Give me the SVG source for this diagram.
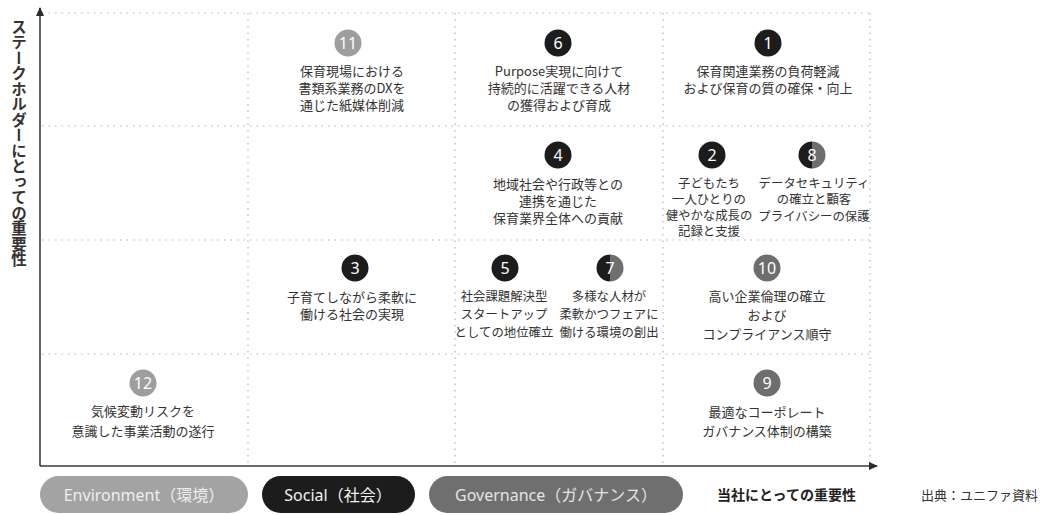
<svg xmlns="http://www.w3.org/2000/svg" width="1063" height="515" viewBox="0 0 1063 515">
<style>
.grid{stroke:#b5b5b5;stroke-width:1.2;stroke-dasharray:1.5 5;fill:none}
.axis{stroke:#3a3a3a;stroke-width:1.6;fill:none}
.t{font-family:"Noto Sans CJK JP","Noto Sans",sans-serif;font-size:13px;fill:#333;text-anchor:middle;dominant-baseline:central}
.s{font-size:12.4px}
.n{font-family:"Noto Sans","Noto Sans CJK JP",sans-serif;font-size:16px;fill:#fff;text-anchor:middle;dominant-baseline:central}
.soc{fill:#1c1c1c}
.gov{fill:#6e6e6e}
.env{fill:#9e9e9e}
.pill{font-family:"Noto Sans","Noto Sans CJK JP",sans-serif;font-size:16px;text-anchor:middle;dominant-baseline:central}
</style>
<defs>
<marker id="ah" markerWidth="10" markerHeight="10" refX="8" refY="5" orient="auto" markerUnits="userSpaceOnUse">
<path d="M0,1 L9,5 L0,9 Z" fill="#2a2a2a"/>
</marker>
</defs>
<rect width="1063" height="515" fill="#fff"/>
<g id="grid">
<line class="grid" x1="42" y1="13" x2="870" y2="13"/>
<line class="grid" x1="42" y1="126" x2="870" y2="126"/>
<line class="grid" x1="42" y1="240" x2="870" y2="240"/>
<line class="grid" x1="42" y1="354" x2="870" y2="354"/>
<line class="grid" x1="248" y1="13" x2="248" y2="465"/>
<line class="grid" x1="455" y1="13" x2="455" y2="465"/>
<line class="grid" x1="663" y1="13" x2="663" y2="465"/>
<line class="grid" x1="870" y1="13" x2="870" y2="465"/>
</g>
<g id="connectors">
<line class="axis" x1="40" y1="466" x2="40" y2="8" marker-end="url(#ah)"/>
<line class="axis" x1="40" y1="466" x2="877" y2="466" marker-end="url(#ah)"/>
</g>
<text x="19" y="19" writing-mode="vertical-rl" style="font-family:'Noto Sans CJK JP',sans-serif;font-size:15.5px;font-weight:bold;fill:#333">ステークホルダーにとっての重要性</text>
<g id="n11">
<circle cx="348" cy="43" r="13.5" class="env"/><text class="n" x="348" y="43">11</text>
<text class="t" x="352" y="70">保育現場における</text>
<text class="t" x="352" y="87">書類系業務のDXを</text>
<text class="t" x="352" y="104">通じた紙媒体削減</text>
</g>
<g id="n6">
<circle cx="558" cy="43" r="13.5" class="soc"/><text class="n" x="558" y="43">6</text>
<text class="t" x="559" y="70">Purpose実現に向けて</text>
<text class="t" x="559" y="87">持続的に活躍できる人材</text>
<text class="t" x="559" y="104">の獲得および育成</text>
</g>
<g id="n1">
<circle cx="768" cy="43" r="13.5" class="soc"/><text class="n" x="768" y="43">1</text>
<text class="t" x="768" y="70">保育関連業務の負荷軽減</text>
<text class="t" x="768" y="87">および保育の質の確保・向上</text>
</g>
<g id="n4">
<circle cx="558" cy="155" r="13.5" class="soc"/><text class="n" x="558" y="155">4</text>
<text class="t" x="558" y="183">地域社会や行政等との</text>
<text class="t" x="558" y="200">連携を通じた</text>
<text class="t" x="558" y="217">保育業界全体への貢献</text>
</g>
<g id="n2">
<circle cx="712" cy="155" r="13.5" class="soc"/><text class="n" x="712" y="155">2</text>
<text class="t s" x="709" y="183">子どもたち</text>
<text class="t s" x="709" y="199">一人ひとりの</text>
<text class="t s" x="709" y="215">健やかな成長の</text>
<text class="t s" x="709" y="231">記録と支援</text>
</g>
<g id="n8">
<path d="M812,141.5 A13.5,13.5 0 0 0 812,168.5 Z" class="soc"/>
<path d="M812,141.5 A13.5,13.5 0 0 1 812,168.5 Z" class="gov"/>
<text class="n" x="812" y="155">8</text>
<text class="t s" x="814" y="183">データセキュリティ</text>
<text class="t s" x="814" y="199">の確立と顧客</text>
<text class="t s" x="814" y="216">プライバシーの保護</text>
</g>
<g id="n3">
<circle cx="355" cy="268" r="13.5" class="soc"/><text class="n" x="355" y="268">3</text>
<text class="t" x="352" y="296">子育てしながら柔軟に</text>
<text class="t" x="352" y="313">働ける社会の実現</text>
</g>
<g id="n5">
<circle cx="505" cy="268" r="13.5" class="soc"/><text class="n" x="505" y="268">5</text>
<text class="t s" x="504" y="296">社会課題解決型</text>
<text class="t s" x="504" y="314">スタートアップ</text>
<text class="t s" x="504" y="332">としての地位確立</text>
</g>
<g id="n7">
<path d="M610,254.5 A13.5,13.5 0 0 0 610,281.5 Z" class="soc"/>
<path d="M610,254.5 A13.5,13.5 0 0 1 610,281.5 Z" class="gov"/>
<text class="n" x="610" y="268">7</text>
<text class="t s" x="609" y="296">多様な人材が</text>
<text class="t s" x="609" y="314">柔軟かつフェアに</text>
<text class="t s" x="609" y="332">働ける環境の創出</text>
</g>
<g id="n10">
<circle cx="767" cy="268" r="13.5" class="gov"/><text class="n" x="767" y="268">10</text>
<text class="t" x="767" y="295">高い企業倫理の確立</text>
<text class="t" x="767" y="314">および</text>
<text class="t" x="767" y="333">コンプライアンス順守</text>
</g>
<g id="n12">
<circle cx="143" cy="383" r="13.5" class="env"/><text class="n" x="143" y="383">12</text>
<text class="t" x="143" y="410">気候変動リスクを</text>
<text class="t" x="143" y="430">意識した事業活動の遂行</text>
</g>
<g id="n9">
<circle cx="767" cy="383" r="13.5" class="gov"/><text class="n" x="767" y="383">9</text>
<text class="t" x="767" y="411">最適なコーポレート</text>
<text class="t" x="767" y="430">ガバナンス体制の構築</text>
</g>
<g id="legend-env">
<rect x="40" y="476" width="208" height="37" rx="18.5" fill="#a3a3a3"/>
<text class="pill" x="144" y="494.5" fill="#eeeeee">Environment（環境）</text>
</g>
<g id="legend-soc">
<rect x="262" y="476" width="153" height="37" rx="18.5" fill="#1c1c1c"/>
<text class="pill" x="338" y="494.5" fill="#f2f2f2">Social（社会）</text>
</g>
<g id="legend-gov">
<rect x="429" y="476" width="254" height="37" rx="18.5" fill="#6f6f6f"/>
<text class="pill" x="556" y="494.5" fill="#e4e4e4">Governance（ガバナンス）</text>
</g>
<text x="717" y="494" style="font-family:'Noto Sans CJK JP',sans-serif;font-size:14px;font-weight:bold;fill:#222;dominant-baseline:central">当社にとっての重要性</text>
<text x="921" y="494" style="font-family:'Noto Sans CJK JP',sans-serif;font-size:13px;fill:#333;dominant-baseline:central">出典：ユニファ資料</text>
</svg>
